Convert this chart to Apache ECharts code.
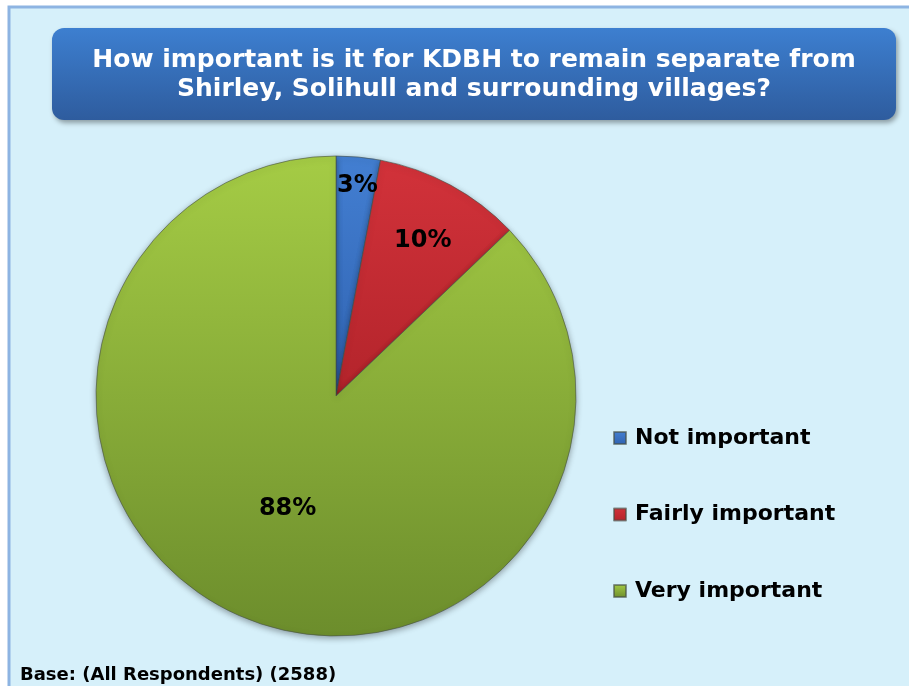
<!DOCTYPE html>
<html>
<head>
<meta charset="utf-8">
<script src="https://cdn.jsdelivr.net/npm/echarts@6/dist/echarts.min.js"></script>
<style>
html, body { margin: 0; padding: 0; background: #ffffff; }
#main { width: 909px; height: 686px; }
</style>
</head>
<body>
<div id="main"></div>
<script>
var categories = ['Not important', 'Fairly important', 'Very important'];
var values = [3, 10, 88];
var titleText = 'How important is it for KDBH to remain separate from\nShirley, Solihull and surrounding villages?';
var baseNote = 'Base: (All Respondents) (2588)';

// top colour, bottom colour for each slice
var sliceColors = [
    ['#437fd2', '#2f62b0'],
    ['#d2323a', '#b3242b'],
    ['#a5cc45', '#6c8d2c']
];
// nudges for the small slice labels, like the original
var labelNudge = [[10, -88], [28, -47], [0, 0]];

var chart = echarts.init(document.getElementById('main'));

var pieData = categories.map(function (name, i) {
    return {
        name: name,
        value: values[i],
        itemStyle: {
            color: new echarts.graphic.LinearGradient(0, 0, 0, 1, [
                { offset: 0, color: sliceColors[i][0] },
                { offset: 1, color: sliceColors[i][1] }
            ])
        }
    };
});

var option = {
    animation: false,
    graphic: [
        {
            type: 'rect',
            z: -10,
            shape: { x: 9, y: 7, width: 920, height: 700 },
            style: { fill: '#d6f0fa', stroke: '#8db4e2', lineWidth: 3 }
        },
        {
            type: 'rect',
            z: -5,
            shape: { x: 52, y: 28, width: 844, height: 92, r: 12 },
            style: {
                fill: new echarts.graphic.LinearGradient(0, 0, 0, 1, [
                    { offset: 0, color: '#3d7fd0' },
                    { offset: 1, color: '#2e5c9e' }
                ]),
                shadowBlur: 5,
                shadowOffsetX: 2,
                shadowOffsetY: 3,
                shadowColor: 'rgba(0,0,0,0.35)'
            }
        }
    ],
    title: [
        {
            text: titleText,
            left: 474,
            top: 46,
            padding: 0,
            textAlign: 'center',
            textStyle: {
                color: '#ffffff',
                fontFamily: 'DejaVu Sans',
                fontWeight: 'bold',
                fontSize: 25,
                lineHeight: 29
            }
        },
        {
            text: baseNote,
            left: 20,
            top: 666,
            padding: 0,
            textStyle: {
                color: '#000000',
                fontFamily: 'DejaVu Sans',
                fontWeight: 'bold',
                fontSize: 18
            }
        }
    ],
    legend: {
        orient: 'vertical',
        left: 613,
        top: 427,
        padding: 0,
        itemGap: 54.5,
        itemWidth: 12,
        itemHeight: 12,
        icon: 'rect',
        data: categories,
        textStyle: {
            color: '#000000',
            fontFamily: 'DejaVu Sans',
            fontWeight: 'bold',
            fontSize: 22,
            padding: [0, 0, 0, 4]
        }
    },
    series: [{
        type: 'pie',
        center: [336, 396],
        radius: 240,
        startAngle: 90,
        clockwise: true,
        data: pieData,
        itemStyle: {
            borderColor: 'rgba(70,80,70,0.6)',
            borderWidth: 1,
            shadowBlur: 6,
            shadowOffsetY: 2,
            shadowColor: 'rgba(0,0,0,0.35)'
        },
        label: {
            position: 'inside',
            formatter: '{c}%',
            color: '#000000',
            fontFamily: 'DejaVu Sans',
            fontWeight: 'bold',
            fontSize: 24
        },
        labelLayout: function (params) {
            var n = labelNudge[params.dataIndex];
            return { dx: n[0], dy: n[1] };
        },
        emphasis: { disabled: true }
    }]
};

if (option && typeof option === "object") {
    chart.setOption(option, true);
}
</script>
</body>
</html>
